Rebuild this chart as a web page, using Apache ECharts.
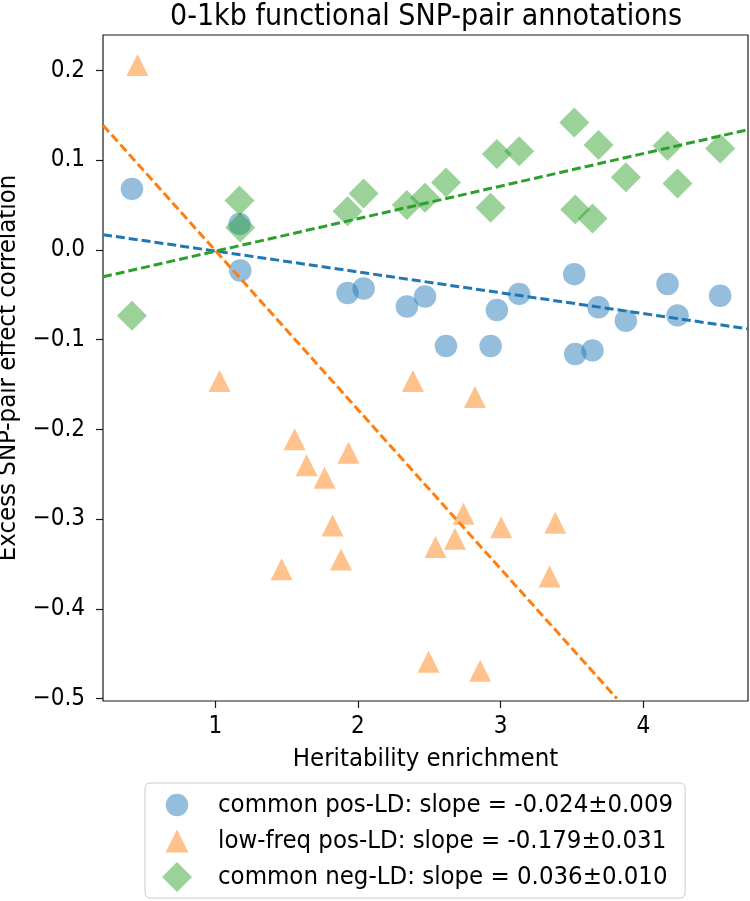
<!DOCTYPE html>
<html>
<head>
<meta charset="utf-8">
<script src="https://cdn.jsdelivr.net/npm/echarts@6/dist/echarts.min.js"></script>
<style>html,body{margin:0;padding:0;background:#fff;}#main{width:750px;height:901px;}</style>
</head>
<body>
<div id="main"></div>
<script>
// ---- data ----
const xTicks = [1, 2, 3, 4];
const yTicks = [-0.5, -0.4, -0.3, -0.2, -0.1, 0.0, 0.1, 0.2];

const commonX = [0.416, 1.170, 1.175, 1.927, 2.040, 2.343, 2.470, 2.617, 2.930, 2.974, 3.130, 3.516, 3.523, 3.644, 3.686, 3.878, 4.170, 4.240, 4.539];
const posLDY  = [0.068, 0.029, -0.023, -0.048, -0.043, -0.063, -0.052, -0.107, -0.107, -0.067, -0.049, -0.027, -0.116, -0.112, -0.064, -0.079, -0.038, -0.073, -0.051];
const negLDY  = [-0.0735, 0.055, 0.025, 0.043, 0.063, 0.050, 0.058, 0.075, 0.047, 0.107, 0.110, 0.142, 0.045, 0.035, 0.117, 0.081, 0.116, 0.074, 0.113];

const lowFreqX = [0.455, 1.030, 1.465, 1.556, 1.640, 1.766, 1.822, 1.881, 1.934, 2.385, 2.495, 2.544, 2.680, 2.740, 2.820, 2.857, 3.004, 3.343, 3.383];
const lowFreqY = [0.206, -0.146, -0.356, -0.211, -0.240, -0.254, -0.307, -0.345, -0.226, -0.146, -0.459, -0.331, -0.322, -0.294, -0.164, -0.469, -0.309, -0.364, -0.304];

const fitPosX = [0.213, 4.734], fitPosY = [0.017, -0.088];
const fitLowX = [0.213, 3.815], fitLowY = [0.139, -0.5];
const fitNegX = [0.213, 4.734], fitNegY = [-0.030, 0.134];

const names = [
  'common pos-LD: slope = -0.024\u00b10.009',
  'low-freq pos-LD: slope = -0.179\u00b10.031',
  'common neg-LD: slope = 0.036\u00b10.010'
];
const titleText = '0-1kb functional SNP-pair annotations';
const xName = 'Heritability enrichment';
const yName = 'Excess SNP-pair effect correlation';

// ---- build ----
const zip = (xs, ys) => xs.map((x, i) => [x, ys[i]]);
const FONT = '"DejaVu Sans Condensed", "Liberation Sans Narrow", "DejaVu Sans", sans-serif';
const AX = '#1a1a1a';
const c1 = 'rgba(31,119,180,0.6)', c2 = 'rgba(255,127,14,0.6)', c3 = 'rgba(44,160,44,0.6)';
const dash = [9, 4];

const chart = echarts.init(document.getElementById('main'), null, {renderer: 'canvas'});
chart.setOption({
  animation: false,
  backgroundColor: '#fff',
  title: {
    text: titleText, left: 426, top: 2, padding: 0, textAlign: 'center',
    textStyle: {fontFamily: FONT, fontSize: 30, fontWeight: 'normal', color: '#000'}
  },
  grid: {left: 103, right: 2, top: 35, bottom: 200, outerBoundsMode: 'none', containLabel: false,
    show: true, borderColor: AX, borderWidth: 1.2, backgroundColor: 'transparent'},
  xAxis: {
    type: 'value', min: 0.213, max: 4.734,
    name: xName, nameLocation: 'middle', nameGap: 45,
    nameTextStyle: {fontFamily: FONT, fontSize: 25.5, color: '#000'},
    axisLine: {show: false, onZero: false},
    splitLine: {show: false},
    axisTick: {show: true, length: 7, customValues: xTicks, lineStyle: {color: AX, width: 1.2}},
    axisLabel: {customValues: xTicks, margin: 14, fontFamily: FONT, fontSize: 24, color: '#000', formatter: v => String(v)}
  },
  yAxis: {
    type: 'value', min: -0.5027, max: 0.2395,
    name: yName, nameLocation: 'middle', nameGap: 77,
    nameTextStyle: {fontFamily: FONT, fontSize: 25.5, color: '#000'},
    axisLine: {show: false, onZero: false},
    splitLine: {show: false},
    axisTick: {show: true, length: 7, customValues: yTicks, lineStyle: {color: AX, width: 1.2}},
    axisLabel: {customValues: yTicks, margin: 18, fontFamily: FONT, fontSize: 24, color: '#000',
      formatter: v => (v < -1e-9 ? '\u2212' : '') + Math.abs(v).toFixed(1)}
  },
  legend: {
    orient: 'vertical', left: 145, top: 783,
    padding: [7, 12, 6, 17], itemGap: 6, itemWidth: 30, itemHeight: 30,
    borderColor: '#cccccc', borderWidth: 1, borderRadius: 5, backgroundColor: '#fff',
    textStyle: {fontFamily: FONT, fontSize: 25.5, color: '#000', padding: [0, 0, 0, 21]},
    data: [
      {name: names[0], icon: 'path://M0,0M30,30M3.75,15A11.25,11.25,0,0,1,26.25,15A11.25,11.25,0,0,1,3.75,15Z'},
      {name: names[1], icon: 'path://M0,0M30,30M15,3.5L26.5,26.5L3.5,26.5Z'},
      {name: names[2], icon: 'diamond'}
    ]
  },
  series: [
    {name: names[0], type: 'scatter', symbol: 'circle', symbolSize: 22.5, itemStyle: {color: c1}, data: zip(commonX, posLDY)},
    {name: names[1], type: 'scatter', symbol: 'triangle', symbolSize: 22, itemStyle: {color: c2}, data: zip(lowFreqX, lowFreqY)},
    {name: names[2], type: 'scatter', symbol: 'diamond', symbolSize: 30, itemStyle: {color: c3}, data: zip(commonX, negLDY)},
    {name: 'fitPos', type: 'line', showSymbol: false, symbol: 'none', clip: true, lineStyle: {color: '#1f77b4', width: 3, type: dash}, data: zip(fitPosX, fitPosY), z: 5},
    {name: 'fitLow', type: 'line', showSymbol: false, symbol: 'none', clip: true, lineStyle: {color: '#ff7f0e', width: 3, type: dash}, data: zip(fitLowX, fitLowY), z: 5},
    {name: 'fitNeg', type: 'line', showSymbol: false, symbol: 'none', clip: true, lineStyle: {color: '#2ca02c', width: 3, type: dash}, data: zip(fitNegX, fitNegY), z: 5}
  ]
});
</script>
</body>
</html>
